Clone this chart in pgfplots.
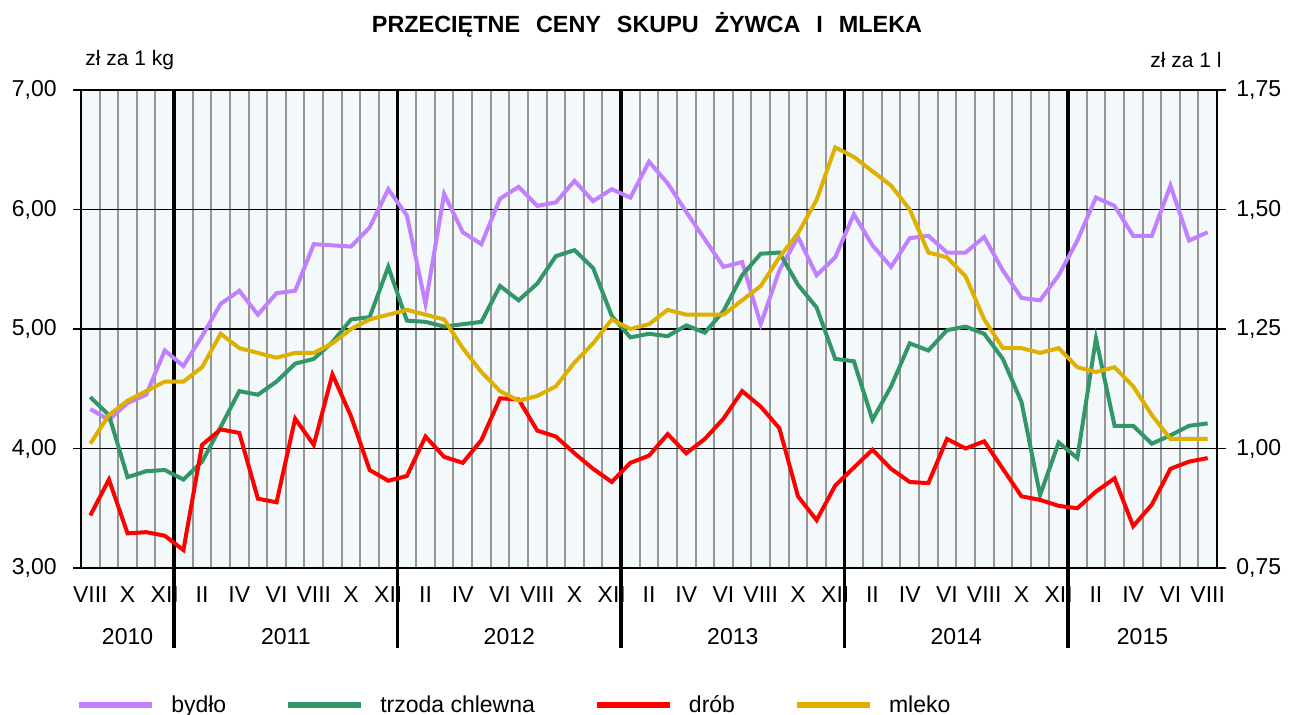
\documentclass[border=0pt]{standalone}
\usepackage{fontspec}
\setmainfont{Liberation Sans}
\usepackage{pgfplots}
\usepackage{pgfplotstable}
\pgfplotsset{compat=1.18}
\definecolor{cBydlo}{RGB}{192,128,255}
\definecolor{cTrzoda}{RGB}{51,150,102}
\definecolor{cDrob}{RGB}{255,0,0}
\definecolor{cMleko}{RGB}{224,176,0}
\definecolor{cBg}{RGB}{243,249,251}
\definecolor{cGrid}{RGB}{150,150,150}

\pgfplotstableread{
i bydlo trzoda drob mleko
0 4.33 4.43 3.44 1.01
1 4.24 4.28 3.74 1.07
2 4.38 3.76 3.29 1.10
3 4.45 3.81 3.30 1.12
4 4.82 3.82 3.27 1.14
5 4.69 3.74 3.15 1.14
6 4.94 3.89 4.03 1.17
7 5.21 4.18 4.16 1.24
8 5.32 4.48 4.13 1.21
9 5.12 4.45 3.58 1.20
10 5.30 4.56 3.55 1.19
11 5.32 4.71 4.25 1.20
12 5.71 4.75 4.03 1.20
13 5.70 4.89 4.62 1.22
14 5.69 5.08 4.27 1.25
15 5.85 5.10 3.82 1.27
16 6.17 5.52 3.73 1.28
17 5.95 5.07 3.77 1.29
18 5.21 5.06 4.10 1.28
19 6.13 5.02 3.93 1.27
20 5.81 5.04 3.88 1.21
21 5.71 5.06 4.07 1.16
22 6.09 5.36 4.42 1.12
23 6.19 5.24 4.41 1.10
24 6.03 5.38 4.15 1.11
25 6.06 5.61 4.10 1.13
26 6.24 5.66 3.96 1.18
27 6.07 5.51 3.83 1.22
28 6.17 5.11 3.72 1.27
29 6.10 4.93 3.88 1.25
30 6.40 4.96 3.94 1.26
31 6.22 4.94 4.12 1.29
32 5.98 5.03 3.96 1.28
33 5.75 4.97 4.08 1.28
34 5.52 5.15 4.25 1.28
35 5.56 5.45 4.48 1.31
36 5.04 5.63 4.35 1.34
37 5.49 5.64 4.17 1.40
38 5.77 5.37 3.60 1.45
39 5.45 5.18 3.40 1.52
40 5.60 4.75 3.69 1.63
41 5.96 4.73 3.84 1.61
42 5.70 4.24 3.99 1.58
43 5.52 4.52 3.83 1.55
44 5.76 4.88 3.72 1.50
45 5.78 4.82 3.71 1.41
46 5.64 4.99 4.08 1.40
47 5.64 5.02 4.00 1.36
48 5.77 4.96 4.06 1.27
49 5.49 4.75 3.83 1.21
50 5.26 4.39 3.60 1.21
51 5.24 3.61 3.57 1.20
52 5.45 4.05 3.52 1.21
53 5.74 3.92 3.50 1.17
54 6.10 4.92 3.64 1.16
55 6.03 4.19 3.75 1.17
56 5.78 4.19 3.35 1.13
57 5.78 4.04 3.53 1.07
58 6.20 4.11 3.83 1.02
59 5.74 4.19 3.89 1.02
60 5.81 4.21 3.92 1.02
}\data

\begin{document}
\begin{tikzpicture}[font=\fontsize{11.5}{13}\selectfont]
\useasboundingbox (0,0) rectangle (645pt,-357.5pt);
\node[font=\fontsize{11.7}{13}\selectfont\bfseries] at (323.5pt,-12.5pt)
  {PRZECIĘTNE\hspace{0.68em}CENY\hspace{0.68em}SKUPU\hspace{0.68em}ŻYWCA\hspace{0.68em}I\hspace{0.68em}MLEKA};
\node[anchor=west, inner sep=0pt, font=\fontsize{10.5}{12}\selectfont] at (42.5pt,-30pt) {zł za 1 kg};
\node[anchor=east, inner sep=0pt, font=\fontsize{10.5}{12}\selectfont] at (611pt,-30pt) {zł za 1 l};
\begin{axis}[
  at={(40.5pt,-284pt)}, anchor=south west,
  scale only axis, width=568pt, height=239pt,
  xmin=-0.5, xmax=60.5, ymin=3, ymax=7,
  clip=false,
  axis background/.style={fill=cBg},
  axis line style={black, line width=1pt},
  ytick={3,4,5,6,7},
  ymajorgrids=true,
  major grid style={black, line width=0.6pt},
  xminorgrids=true,
  minor xtick={-0.5,0.5,...,60.5},
  minor grid style={cGrid, line width=1pt},
  minor tick length=0pt,
  xtick={0,2,...,60},
  xticklabels={VIII,X,XII,II,IV,VI,VIII,X,XII,II,IV,VI,VIII,X,XII,II,IV,VI,VIII,X,XII,II,IV,VI,VIII,X,XII,II,IV,VI,VIII},
  xtick style={draw=none},
  xtick pos=left,
  ytick pos=left,
  tick align=outside,
  major tick length=4pt,
  ytick style={black, line width=0.6pt},
  xticklabel style={anchor=north, inner sep=0pt, yshift=-5pt},
  yticklabel style={anchor=east, inner sep=0pt, xshift=-8pt,
     /pgf/number format/.cd, fixed, fixed zerofill, precision=2, use comma, assume math mode=true},
]
\foreach \xb in {4.5,16.5,28.5,40.5,52.5} {
  \edef\tmp{\noexpand\draw[black, line width=1.8pt] (axis cs:\xb,7) -- (axis cs:\xb,2.33);}
  \tmp
}
\addplot[cBydlo, line width=2pt] table[x=i, y=bydlo] {\data};
\addplot[cTrzoda, line width=2pt] table[x=i, y=trzoda] {\data};
\addplot[cDrob, line width=2pt] table[x=i, y=drob] {\data};
\node[yshift=-34.5pt] at (axis cs:2,3) {2010};
\node[yshift=-34.5pt] at (axis cs:10.5,3) {2011};
\node[yshift=-34.5pt] at (axis cs:22.5,3) {2012};
\node[yshift=-34.5pt] at (axis cs:34.5,3) {2013};
\node[yshift=-34.5pt] at (axis cs:46.5,3) {2014};
\node[yshift=-34.5pt] at (axis cs:56.5,3) {2015};
\end{axis}
\begin{axis}[
  at={(40.5pt,-284pt)}, anchor=south west,
  scale only axis, width=568pt, height=239pt,
  xmin=-0.5, xmax=60.5, ymin=0.75, ymax=1.75,
  axis x line=none,
  axis y line*=right,
  axis line style={black, line width=1pt},
  ytick={0.75,1,1.25,1.5,1.75},
  tick align=outside,
  major tick length=4.5pt,
  ytick style={black, line width=0.6pt},
  yticklabel style={anchor=west, inner sep=0pt, xshift=5pt,
     /pgf/number format/.cd, fixed, fixed zerofill, precision=2, use comma, assume math mode=true},
  legend columns=4,
  legend style={at={(-0.0045,-0.287)}, anchor=west, draw=none, fill=none, inner sep=0pt,
     font=\fontsize{11.5}{13}\selectfont,
     /tikz/every odd column/.append style={column sep=6pt},
     /tikz/every even column/.append style={column sep=27.5pt}},
  legend image code/.code={\draw[#1, line width=3pt] (0pt,0pt) -- (36.5pt,0pt);},
]
\addlegendimage{cBydlo}
\addlegendentry{bydło}
\addlegendimage{cTrzoda}
\addlegendentry{trzoda chlewna}
\addlegendimage{cDrob}
\addlegendentry{drób}
\addplot[cMleko, line width=2pt] table[x=i, y=mleko] {\data};
\addlegendentry{mleko}
\end{axis}
\end{tikzpicture}
\end{document}
